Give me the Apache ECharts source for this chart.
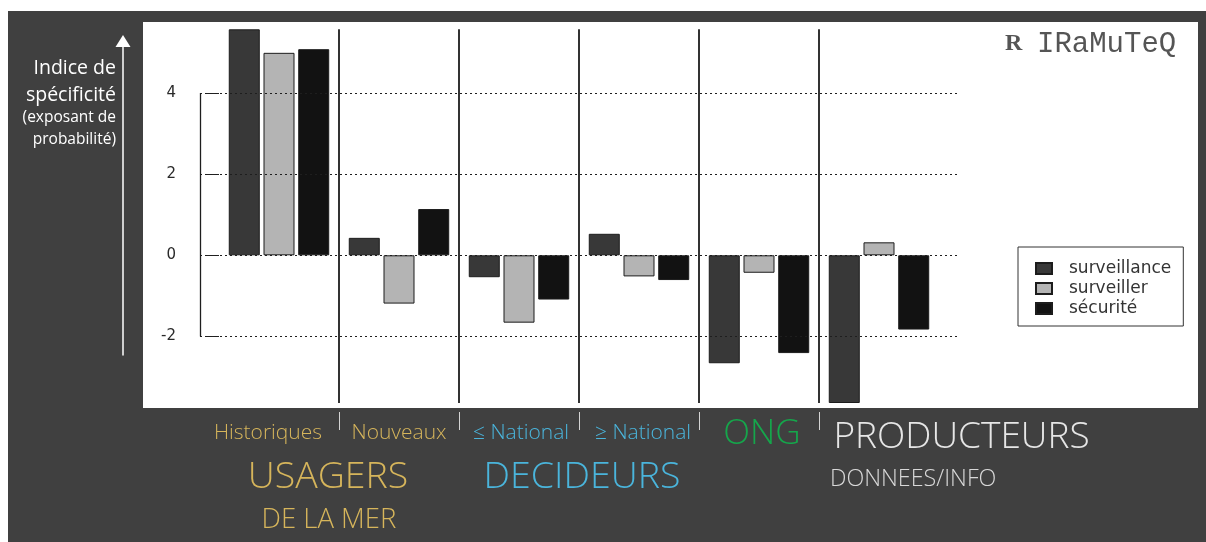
<!DOCTYPE html>
<html>
<head>
<meta charset="utf-8">
<script src="https://cdn.jsdelivr.net/npm/echarts@6/dist/echarts.min.js"></script>
<style>
  html, body { margin: 0; padding: 0; background: #ffffff; }
  #frame { position: absolute; left: 8px; top: 11px; right: 0; bottom: 0; background: #404040; }
  #chart { position: absolute; left: 0; top: 0; width: 1206px; height: 542px; }
</style>
</head>
<body>
<div id="frame"></div>
<div id="chart"></div>
<script>
// Profiles of the three terms across actor groups
const categories = ['Historiques', 'Nouveaux', '≤ National', '≥ National', 'ONG', 'PRODUCTEURS'];
const surveillance = [5.57, 0.43, -0.54, 0.53, -2.66, -3.64];
const surveiller = [4.99, -1.19, -1.66, -0.52, -0.43, 0.32];
const securite = [5.08, 1.14, -1.09, -0.61, -2.41, -1.83];
const seriesNames = ['surveillance', 'surveiller', 'sécurité'];
const yTickValues = [-2, 0, 2, 4];
const separatorPositions = [1, 2, 3, 4, 5];
const axisTitleLines = ['Indice de', 'spécificité', '(exposant de', 'probabilité)'];
const groupTitles = ['USAGERS', 'DE LA MER', 'DECIDEURS', 'DONNEES/INFO'];

const allValues = surveillance.concat(surveiller, securite);
const lo = Math.min(...allValues);
const hi = Math.max(...allValues);

// plot area geometry (px)
const plotTop = 29.3, plotBottom = 403;
const bandLeft = 219, bandWidth = 120;
const refLeft = 200, refRight = 958;
const xMin = (refLeft - bandLeft) / bandWidth;
const xMax = (refRight - bandLeft) / bandWidth;

const textFont = '"Open Sans", "Noto Sans", sans-serif';
const gold = '#d6b55b', blue = '#4ab5dc', green = '#15a64b', light = '#e6e6e6';

const labelKeys = ['hist', 'nouv', 'natLo', 'natHi', 'ong', 'prod'];

const chart = echarts.init(document.getElementById('chart'), null, { renderer: 'canvas' });

const barStyle = (color) => ({ color: color, borderColor: '#1c1c1c', borderWidth: 1 });

const textGraphics = [
  { type: 'text', x: 116, y: 68, style: { text: axisTitleLines[0], align: 'right', verticalAlign: 'middle', fill: '#ffffff', fontSize: 19.5, fontFamily: textFont } },
  { type: 'text', x: 116, y: 95, style: { text: axisTitleLines[1], align: 'right', verticalAlign: 'middle', fill: '#ffffff', fontSize: 19.5, fontFamily: textFont } },
  { type: 'text', x: 116, y: 118, style: { text: axisTitleLines[2], align: 'right', verticalAlign: 'middle', fill: '#ffffff', fontSize: 15.5, fontFamily: textFont } },
  { type: 'text', x: 116, y: 140, style: { text: axisTitleLines[3], align: 'right', verticalAlign: 'middle', fill: '#ffffff', fontSize: 15.5, fontFamily: textFont } },
  { type: 'text', x: 328, y: 477, style: { text: groupTitles[0], align: 'center', verticalAlign: 'middle', fill: gold, fontSize: 37.5, fontWeight: 300, fontFamily: textFont } },
  { type: 'text', x: 329, y: 520, style: { text: groupTitles[1], align: 'center', verticalAlign: 'middle', fill: gold, fontSize: 27.5, fontWeight: 300, fontFamily: textFont } },
  { type: 'text', x: 582, y: 477, style: { text: groupTitles[2], align: 'center', verticalAlign: 'middle', fill: blue, fontSize: 37.5, fontWeight: 300, fontFamily: textFont } },
  { type: 'text', x: 830, y: 479, style: { text: groupTitles[3], align: 'left', verticalAlign: 'middle', fill: '#d8d8d8', fontSize: 23.3, fontWeight: 300, fontFamily: textFont } },
  { type: 'text', x: 1005, y: 44, style: { text: 'R', align: 'left', verticalAlign: 'middle', fill: '#555', fontSize: 24, fontWeight: 'bold', fontFamily: '"Liberation Serif", serif' } },
  { type: 'text', x: 1037, y: 44, style: { text: 'IRaMuTeQ', align: 'left', verticalAlign: 'middle', fill: '#555', fontSize: 29, fontFamily: '"Liberation Mono", monospace' } }
];

const option = {
  backgroundColor: 'transparent',
  animation: false,
  grid: [
    { left: 143, top: 22, width: 1055, height: 386, show: true, backgroundColor: '#ffffff', borderWidth: 0 },
    { left: refLeft, top: plotTop, width: refRight - refLeft, height: plotBottom - plotTop },
    { left: bandLeft, top: plotTop, width: bandWidth * categories.length, height: plotBottom - plotTop },
    { left: 123, top: 41, width: 10, height: 314 }
  ],
  xAxis: [
    { gridIndex: 0, type: 'value', show: false },
    { gridIndex: 1, type: 'value', min: xMin, max: xMax, show: false },
    {
      gridIndex: 2, type: 'category', data: categories,
      axisLine: { show: false }, axisTick: { show: false }, splitLine: { show: false },
      axisLabel: {
        interval: 0, margin: 30, verticalAlign: 'middle',
        formatter: (v, i) => '{' + labelKeys[i] + '|' + v + '}',
        rich: {
          hist: { color: gold, fontSize: 21, fontFamily: textFont, fontWeight: 300, padding: [0, 22, 0, 0] },
          nouv: { color: gold, fontSize: 21, fontFamily: textFont, fontWeight: 300 },
          natLo: { color: blue, fontSize: 21, fontFamily: textFont, fontWeight: 300, padding: [0, 0, 0, 4] },
          natHi: { color: blue, fontSize: 21, fontFamily: textFont, fontWeight: 300, padding: [0, 0, 0, 8] },
          ong: { color: green, fontSize: 35, fontFamily: textFont, fontWeight: 300, padding: [2, 0, 0, 6] },
          prod: { color: light, fontSize: 37, fontFamily: textFont, fontWeight: 300, padding: [8, 0, 0, 165] }
        }
      }
    },
    { gridIndex: 3, type: 'value', show: false }
  ],
  yAxis: [
    { gridIndex: 0, type: 'value', show: false },
    {
      gridIndex: 1, type: 'value', min: lo, max: hi,
      axisLine: { show: false },
      splitLine: { show: false },
      axisTick: { show: true, customValues: yTickValues, length: 12, lineStyle: { color: '#222', width: 1 } },
      axisLabel: { customValues: yTickValues, margin: 24, padding: [4, 0, 0, 0], color: '#2a2a2a', fontSize: 15, fontFamily: '"DejaVu Sans", sans-serif' }
    },
    { gridIndex: 2, type: 'value', min: lo, max: hi, show: false },
    {
      gridIndex: 3, type: 'value', min: 0, max: 1, position: 'left',
      axisLine: { show: true, symbol: ['none', 'triangle'], symbolSize: [15, 12], lineStyle: { color: '#ffffff', width: 1.5 } },
      axisTick: { show: false }, axisLabel: { show: false }, splitLine: { show: false }
    }
  ],
  legend: {
    orient: 'vertical', left: 1018, top: 247,
    padding: [13, 12, 9, 17],
    borderColor: '#333', borderWidth: 1,
    itemWidth: 16, itemHeight: 11, itemGap: 3,
    icon: 'rect',
    data: seriesNames,
    formatter: (name) => '{t|' + name + '}',
    textStyle: {
      color: '#333', fontSize: 17, fontFamily: '"DejaVu Sans", sans-serif',
      rich: { t: { padding: [0, 0, 0, 12], fontSize: 17, fontFamily: '"DejaVu Sans", sans-serif', color: '#333' } }
    }
  },
  series: [
    { name: seriesNames[0], type: 'bar', xAxisIndex: 2, yAxisIndex: 2, data: surveillance, barWidth: 31, barGap: '12%', itemStyle: barStyle('#383838') },
    { name: seriesNames[1], type: 'bar', xAxisIndex: 2, yAxisIndex: 2, data: surveiller, barWidth: 31, barGap: '12%', itemStyle: barStyle('#b4b4b4') },
    { name: seriesNames[2], type: 'bar', xAxisIndex: 2, yAxisIndex: 2, data: securite, barWidth: 31, barGap: '12%', itemStyle: barStyle('#121212') },
    {
      // reference lines: dotted levels, left axis line, group separators
      type: 'line', xAxisIndex: 1, yAxisIndex: 1, data: [], z: 5, silent: true,
      markLine: {
        silent: true, symbol: ['none', 'none'], label: { show: false },
        lineStyle: { color: '#1e1e1e', width: 1, type: [2, 3] },
        data: yTickValues.map(v => ({ yAxis: v }))
          .concat([[{ coord: [xMin, 4], lineStyle: { type: 'solid', width: 1.3, color: '#1e1e1e' } }, { coord: [xMin, -2] }]])
          .concat(separatorPositions.map(p => [
            { coord: [p, lo], lineStyle: { type: 'solid', width: 2, color: '#333' } },
            { coord: [p, hi] }
          ]))
      }
    }
  ],
  graphic: textGraphics
};

chart.setOption(option);

// small white group marks under the panel, placed with the separator scale
const markTop = plotBottom + 9, markBottom = plotBottom + 27;
const groupMarks = separatorPositions.map(p => {
  const px = Math.round(chart.convertToPixel({ xAxisIndex: 1 }, p)) + 0.5;
  return { type: 'line', silent: true, shape: { x1: px, y1: markTop, x2: px, y2: markBottom }, style: { stroke: '#d4d4d4', lineWidth: 1 } };
});
chart.setOption({ graphic: textGraphics.concat(groupMarks) });
</script>
</body>
</html>
